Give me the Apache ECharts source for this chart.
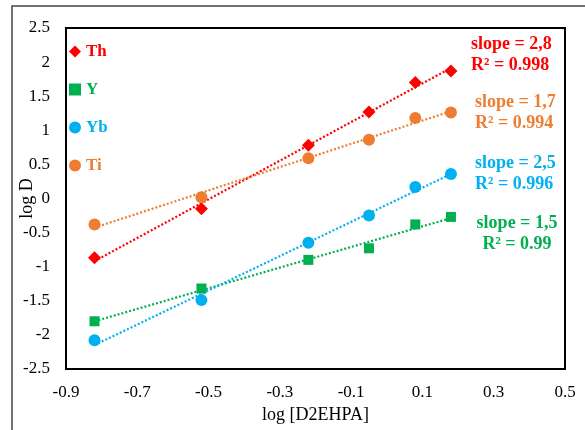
<!DOCTYPE html>
<html>
<head>
<meta charset="utf-8">
<script src="https://cdn.jsdelivr.net/npm/echarts@6/dist/echarts.min.js"></script>
<style>
  html, body { margin: 0; padding: 0; background: #fff; }
  #chart { width: 585px; height: 430px; }
</style>
</head>
<body>
<div id="chart"></div>
<script>
// log [D2EHPA] values shared by all elements
const logExtractant = [-0.82, -0.52, -0.22, -0.05, 0.08, 0.18];

// log D for each element
const thValues = [-0.87, -0.15, 0.78, 1.27, 1.70, 1.87];
const yValues  = [-1.80, -1.32, -0.90, -0.73, -0.38, -0.27];
const ybValues = [-2.08, -1.49, -0.65, -0.25, 0.17, 0.36];
const tiValues = [-0.38, 0.02, 0.59, 0.86, 1.18, 1.26];

const seriesNames = ['Th', 'Y', 'Yb', 'Ti'];
const fitLabels = {
  Th: ['slope = 2,8', 'R² = 0.998'],
  Y:  ['slope = 1,5', 'R² = 0.99'],
  Yb: ['slope = 2,5', 'R² = 0.996'],
  Ti: ['slope = 1,7', 'R² = 0.994']
};

const colors = { Th: '#FF0000', Y: '#00B050', Yb: '#00B0F0', Ti: '#ED7D31' };
const symbols = { Th: 'diamond', Y: 'rect', Yb: 'circle', Ti: 'circle' };
const symbolSizes = { Th: 13, Y: 10, Yb: 12, Ti: 12 };
const valuesByName = { Th: thValues, Y: yValues, Yb: ybValues, Ti: tiValues };

const serif = '"Liberation Serif", "Times New Roman", serif';

// least-squares linear fit, drawn between the first and last x
function linearFit(xs, ys) {
  const n = xs.length;
  const mx = xs.reduce((a, b) => a + b, 0) / n;
  const my = ys.reduce((a, b) => a + b, 0) / n;
  let sxy = 0, sxx = 0;
  for (let i = 0; i < n; i++) { sxy += (xs[i] - mx) * (ys[i] - my); sxx += (xs[i] - mx) ** 2; }
  const b = sxy / sxx, a = my - b * mx;
  const x0 = xs[0], x1 = xs[n - 1];
  return [[x0, a + b * x0], [x1, a + b * x1]];
}

const series = [];
seriesNames.forEach(name => {
  series.push({
    name: name + ' fit',
    type: 'line',
    data: linearFit(logExtractant, valuesByName[name]),
    showSymbol: false,
    symbol: 'none',
    silent: true,
    lineStyle: { color: colors[name], width: 2.2, type: [2, 2], cap: 'butt' },
    z: 2
  });
});
seriesNames.forEach(name => {
  series.push({
    name: name,
    type: 'scatter',
    data: logExtractant.map((x, i) => [x, valuesByName[name][i]]),
    symbol: symbols[name],
    symbolSize: symbolSizes[name],
    itemStyle: { color: colors[name], opacity: 1 },
    z: 3
  });
});

// fit annotations at the right side of the plot
const annotationPos = {
  Th: { x: 471, y: 34, align: 'left' },
  Ti: { x: 475, y: 92, align: 'left' },
  Yb: { x: 475, y: 153, align: 'left' },
  Y:  { x: 517, y: 213, align: 'center' }
};
const graphics = [
  {
    type: 'rect',
    shape: { x: 12, y: 6, width: 600, height: 460 },
    style: { fill: 'none', stroke: '#444', lineWidth: 1.5 },
    silent: true, z: 0
  }
];
seriesNames.forEach(name => {
  const p = annotationPos[name];
  graphics.push({
    type: 'text',
    x: p.x, y: p.y,
    style: {
      text: fitLabels[name].join('\n'),
      fill: colors[name],
      font: 'bold 18px ' + serif,
      align: p.align,
      lineHeight: 21
    },
    z: 10
  });
});

const chart = echarts.init(document.getElementById('chart'), null, { renderer: 'canvas' });
chart.setOption({
  animation: false,
  backgroundColor: '#fff',
  grid: { left: 66, top: 28, right: 20, bottom: 61, show: true, borderColor: '#000', borderWidth: 2, backgroundColor: 'transparent' },
  xAxis: {
    type: 'value',
    min: -0.9, max: 0.5, interval: 0.2,
    name: 'log [D2EHPA]',
    nameLocation: 'middle',
    nameGap: 37,
    nameMoveOverlap: false,
    nameTextStyle: { fontFamily: serif, fontSize: 18, color: '#000' },
    axisLine: { show: false },
    axisTick: { show: false },
    splitLine: { show: false },
    axisLabel: { fontFamily: serif, fontSize: 17, color: '#000', margin: 15, formatter: v => String(+v.toFixed(1)) }
  },
  yAxis: {
    type: 'value',
    min: -2.5, max: 2.5, interval: 0.5,
    name: 'log D',
    nameLocation: 'middle',
    nameGap: 30,
    nameMoveOverlap: false,
    nameTextStyle: { fontFamily: serif, fontSize: 18, color: '#000' },
    axisLine: { show: false },
    axisTick: { show: false },
    splitLine: { show: false },
    axisLabel: { fontFamily: serif, fontSize: 17, color: '#000', margin: 16, formatter: v => String(+v.toFixed(1)) }
  },
  legend: {
    orient: 'vertical',
    left: 64,
    top: 38,
    itemGap: 21,
    itemWidth: 12,
    itemHeight: 12,
    data: seriesNames.map(name => ({
      name: name,
      icon: symbols[name],
      textStyle: { color: colors[name], fontFamily: serif, fontSize: 17, fontWeight: 'bold' }
    })),
    textStyle: { fontFamily: serif, fontSize: 17, fontWeight: 'bold' },
    selectedMode: false
  },
  series: series,
  graphic: graphics
});
</script>
</body>
</html>
